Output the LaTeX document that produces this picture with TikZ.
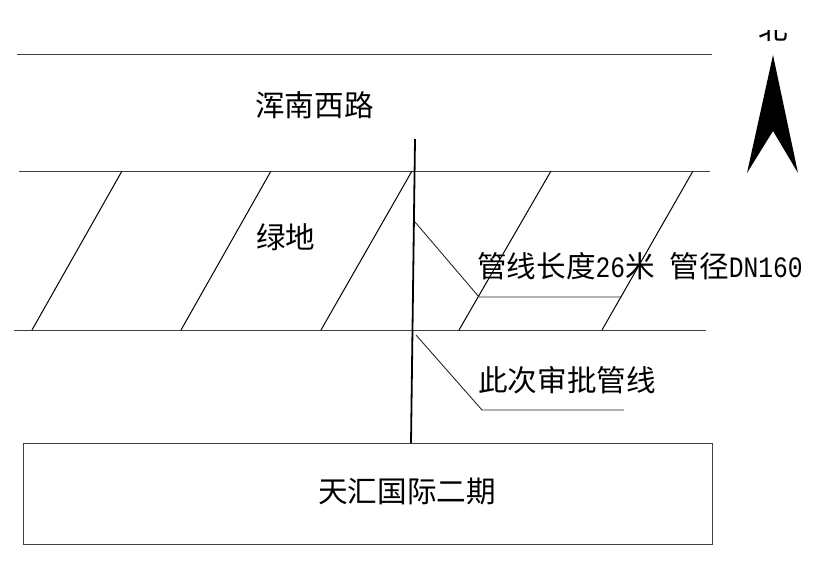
\documentclass[tikz,border=0pt]{standalone}
\usepackage{fontspec}
\setmainfont{Noto Sans CJK SC}
\newfontfamily\latinmono[FakeStretch=0.833]{Liberation Mono}
\newcommand{\lat}[1]{{\latinmono #1}}
\tikzset{
  thinline/.style={draw=black!75,line width=0.9bp},
  hatchline/.style={draw=black,line width=1bp},
  pipeline/.style={draw=black,line width=1.8bp},
  label/.style={inner sep=0pt,anchor=west,font=\fontsize{29.6bp}{32bp}\selectfont}
}
\begin{document}
\begin{tikzpicture}[x=1bp,y=-1bp]
\useasboundingbox (0,0) rectangle (818,569);
% road and green-belt edges
\draw[thinline] (17,54) -- (712,54);
\draw[thinline] (19,171) -- (710,171);
\draw[thinline] (14,330) -- (706,330);
% hatching
\draw[hatchline] (122,171) -- (32,330);
\draw[hatchline] (271,171) -- (181,330);
\draw[hatchline] (412,171) -- (321,330);
\draw[hatchline] (551,171) -- (459,330);
\draw[hatchline] (693,171) -- (602,330);
% site block
\draw[thinline] (23,443) rectangle (712,544);
% pipe
\draw[pipeline] (415,139) -- (411,443);
% leaders
\draw[thinline,draw=black!85] (415,222) -- (479,297) -- (621,297);
\draw[thinline,draw=black!85] (416,335) -- (482,410) -- (624,410);
% north arrow
\fill[black] (773,55) -- (798,173) -- (773,131) -- (747,173) -- cycle;
\begin{scope}
\clip (750,31) rectangle (800,45);
\node[inner sep=0pt,font=\fontsize{29.6bp}{32bp}\selectfont] (north) at (773,28) {北};
\end{scope}
% labels
\node[label] (road) at (255,105) {浑南西路};
\node[label] (green) at (256,237) {绿地};
\node[label] (length) at (477,266) {管线长度\lat{26}米\lat{ }管径\lat{DN160}};
\node[label] (approved) at (478,380) {此次审批管线};
\node[label] (site) at (318,491) {天汇国际二期};
\end{tikzpicture}
\end{document}
